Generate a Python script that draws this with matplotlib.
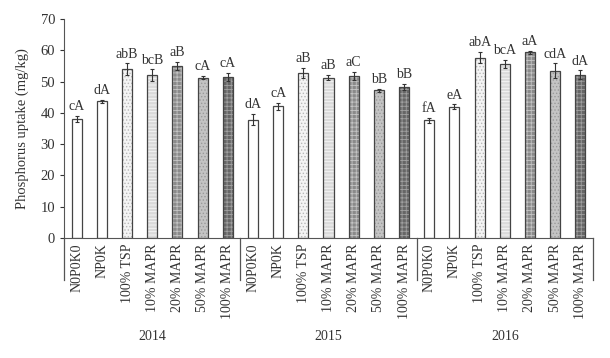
import numpy as np
import matplotlib.pyplot as plt
from matplotlib.transforms import blended_transform_factory

plt.rcParams['font.family'] = ['Liberation Serif', 'DejaVu Serif']
plt.rcParams['hatch.linewidth'] = 0.6

# Data
treatments = ['N0P0K0', 'NP0K', '100% TSP', '10% MAPR', '20% MAPR', '50% MAPR', '100% MAPR']
years = ['2014', '2015', '2016']

uptake = {
    '2014': [38.0, 43.7, 54.0, 52.1, 55.0, 51.3, 51.5],
    '2015': [37.8, 42.1, 52.8, 51.3, 51.8, 47.2, 48.2],
    '2016': [37.6, 41.9, 57.6, 55.7, 59.3, 53.4, 52.2],
}
errors = {
    '2014': [1.0, 0.5, 1.8, 1.8, 1.2, 0.5, 1.3],
    '2015': [1.8, 1.2, 1.5, 0.8, 1.2, 0.4, 1.0],
    '2016': [0.8, 0.8, 1.8, 1.3, 0.5, 2.4, 1.4],
}
letters = {
    '2014': ['cA', 'dA', 'abB', 'bcB', 'aB', 'cA', 'cA'],
    '2015': ['dA', 'cA', 'aB', 'aB', 'aC', 'bB', 'bB'],
    '2016': ['fA', 'eA', 'abA', 'bcA', 'aA', 'cdA', 'dA'],
}

# fill style per treatment: (face, hatch, hatch colour)
styles = [
    ('white', '', 'white'),
    ('white', '', 'white'),
    ('#f4f4f4', '.....', '#b8b8b8'),
    ('#dadada', '-----', '#f8f8f8'),
    ('#8a8a8a', '++++', '#c4c4c4'),
    ('#c4c4c4', '.....', '#9a9a9a'),
    ('#666666', '++++', '#a0a0a0'),
]

fig = plt.figure(figsize=(6.1, 3.58), dpi=100)
ax = fig.add_axes([0.105, 0.335, 0.867, 0.612])

n = len(treatments)
for g, yr in enumerate(years):
    x = np.arange(n) + g * n
    for i in range(n):
        face, hatch, hcol = styles[i]
        ax.bar(x[i], uptake[yr][i], width=0.4, color=face, hatch=hatch,
               edgecolor=hcol, linewidth=0)
        ax.bar(x[i], uptake[yr][i], width=0.4, fill=False,
               edgecolor='#444444', linewidth=0.9)
    ax.errorbar(x, uptake[yr], yerr=errors[yr], fmt='none', ecolor='#333333',
                elinewidth=0.8, capsize=1.5, capthick=0.8)
    for i in range(n):
        ax.annotate(letters[yr][i], (x[i], uptake[yr][i] + errors[yr][i]),
                    xytext=(0, 2), textcoords='offset points',
                    ha='center', va='bottom', fontsize=10, color='#333333')

ax.set_xlim(-0.5, 3 * n - 0.5)
ax.set_ylim(0, 70)
ax.set_yticks(np.arange(0, 71, 10))
ax.set_xticks(np.arange(3 * n))
ax.set_xticklabels(treatments * 3, rotation=90, fontsize=10, color='#333333')
ax.tick_params(axis='x', length=0, pad=4)
ax.tick_params(axis='y', labelsize=10.5, colors='#333333', length=3, direction='out')
ax.spines['top'].set_visible(False)
ax.spines['right'].set_visible(False)
ax.spines['left'].set_color('#555555')
ax.spines['bottom'].set_color('#555555')
ax.set_ylabel('Phosphorus uptake (mg/kg)', fontsize=10.5, color='#333333', labelpad=8)

# group separators and year labels
trans = blended_transform_factory(ax.transData, ax.transAxes)
for s in np.arange(4) * n - 0.5:
    ax.plot([s, s], [0, -0.19], transform=trans, color='#555555', lw=0.9, clip_on=False)
for g, yr in enumerate(years):
    ax.text(g * n + (n - 1) / 2, -0.45, yr, transform=trans, ha='center', va='center',
            fontsize=10, color='#333333')

fig.savefig('out.png', dpi=100)
